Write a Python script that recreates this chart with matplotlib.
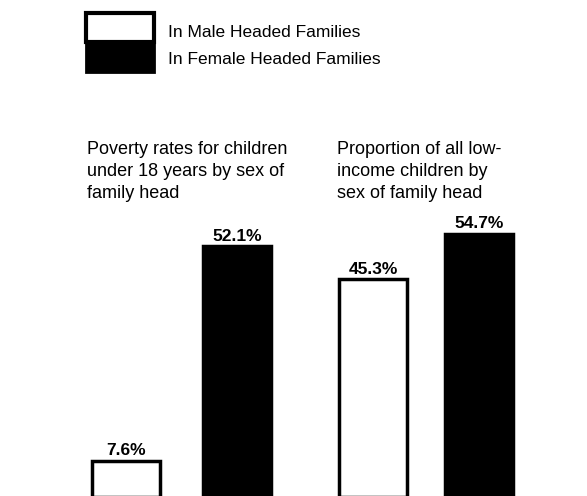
import matplotlib.pyplot as plt
import matplotlib.patches as mpatches

plt.rcParams['font.family'] = ['Liberation Sans', 'DejaVu Sans']

# Data
groups = ['Poverty rates for children\nunder 18 years by sex of\nfamily head',
          'Proportion of all low-\nincome children by\nsex of family head']
male_values = [7.6, 45.3]
female_values = [52.1, 54.7]
legend_labels = ['In Male Headed Families', 'In Female Headed Families']

# layout (pixel space of a 587x496 canvas)
W, H = 587, 496
px_per_unit = 4.81
male_x = [126, 373]
female_x = [237, 479]
bar_w = 68
title_x = [87, 337]

fig = plt.figure(figsize=(W / 100, H / 100), dpi=100)
ax = fig.add_axes([0, 0, 1, 1])
ax.set_xlim(0, W)
ax.set_ylim(0.3, H / px_per_unit)
ax.axis('off')

ax.bar(male_x, male_values, width=bar_w, color='white', edgecolor='black', linewidth=2.5)
ax.bar(female_x, female_values, width=bar_w, color='black', edgecolor='black', linewidth=2.5)

for x, v in zip(male_x + female_x, male_values + female_values):
    ax.text(x, v + 1.1, f'{v}%', ha='center', va='baseline', fontsize=12.5, fontweight='bold')

# Group titles
for tx, g in zip(title_x, groups):
    fig.text(tx / W, 1 - 141 / H, g, ha='left', va='top', fontsize=13, linespacing=1.38)

# Legend box: white top half, black bottom half
fig.patches.append(mpatches.Rectangle((86 / W, 1 - 72 / H), 68 / W, 30 / H,
                                      transform=fig.transFigure, facecolor='black',
                                      edgecolor='black', linewidth=2))
fig.patches.append(mpatches.Rectangle((86 / W, 1 - 42 / H), 68 / W, 29 / H,
                                      transform=fig.transFigure, facecolor='white',
                                      edgecolor='black', linewidth=3))
fig.text(168 / W, 1 - 37 / H, legend_labels[0], ha='left', va='baseline', fontsize=12.5)
fig.text(168 / W, 1 - 64 / H, legend_labels[1], ha='left', va='baseline', fontsize=12.5)

fig.savefig('out.png', dpi=100)
